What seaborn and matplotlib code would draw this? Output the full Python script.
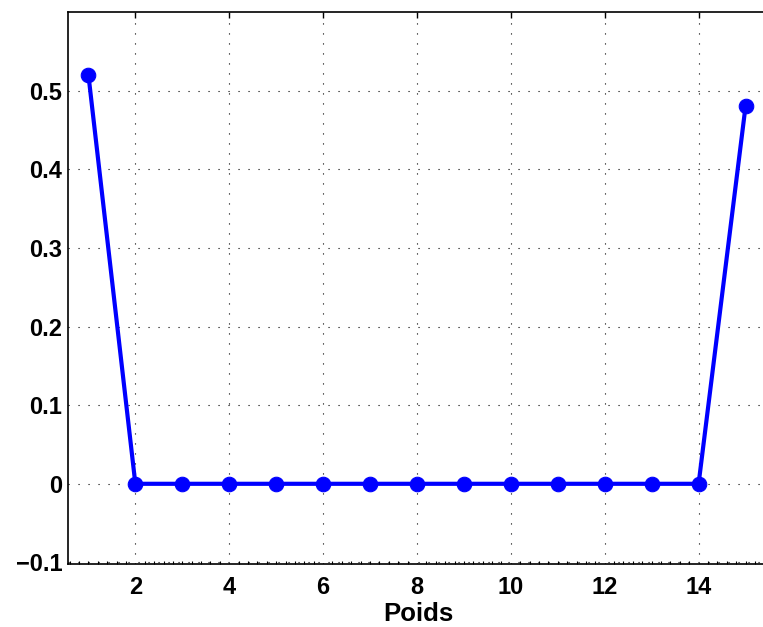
import numpy as np
import pandas as pd
import matplotlib
matplotlib.use('Agg')
import matplotlib.pyplot as plt
from matplotlib.ticker import MultipleLocator
import seaborn as sns

# weights
poids = list(range(1, 16))
valeurs = [0.52, 0, 0, 0, 0, 0, 0, 0, 0, 0, 0, 0, 0, 0, 0.48]
xticks = [2, 4, 6, 8, 10, 12, 14]
yticks = [-0.1, 0, 0.1, 0.2, 0.3, 0.4, 0.5]

data = pd.DataFrame({'Poids': poids, 'Valeur': valeurs})

sns.set_style('white')
plt.rcParams['font.family'] = ['Liberation Sans', 'DejaVu Sans']
plt.rcParams['font.weight'] = 'bold'
plt.rcParams['text.color'] = 'black'
plt.rcParams['xtick.color'] = 'black'
plt.rcParams['ytick.color'] = 'black'
plt.rcParams['axes.labelcolor'] = 'black'

fig = plt.figure(figsize=(7.63, 6.27), dpi=100)
# axes box, right edge runs slightly past the picture like the reference
ax = fig.add_axes([68 / 763, 1 - 564 / 627, 701 / 763, 552 / 627])

sns.lineplot(data=data, x='Poids', y='Valeur', ax=ax, color='#0000ff',
             linewidth=3.0, marker='o', markersize=10.5,
             markeredgecolor='#0000ff', markerfacecolor='#0000ff')

ax.set_xlim(0.565, 15.5)
ax.set_ylim(-0.102, 0.6)
ax.set_xticks(xticks)
ax.set_yticks(yticks)
ax.set_yticklabels(['\u22120.1', '0', '0.1', '0.2', '0.3', '0.4', '0.5'])
ax.xaxis.set_minor_locator(MultipleLocator(0.2))
ax.grid(True, which='major', color='black', linestyle=(0, (1, 8)), linewidth=0.8)
ax.tick_params(which='major', direction='in', length=4, width=1, labelsize=17,
               top=True, right=True)
ax.tick_params(axis='y', which='major', pad=4)
ax.tick_params(axis='x', which='major', pad=9)
ax.tick_params(axis='x', which='minor', direction='in', length=2, width=0.8,
               top=False, bottom=True)
for lab in ax.get_xticklabels() + ax.get_yticklabels():
    lab.set_fontweight('bold')
for sp in ax.spines.values():
    sp.set_color('black')
    sp.set_linewidth(1.2)

ax.set_xlabel('Poids', fontsize=18.5, fontweight='bold', labelpad=1.5)
ax.set_ylabel('')

fig.savefig('out.png', dpi=100)
